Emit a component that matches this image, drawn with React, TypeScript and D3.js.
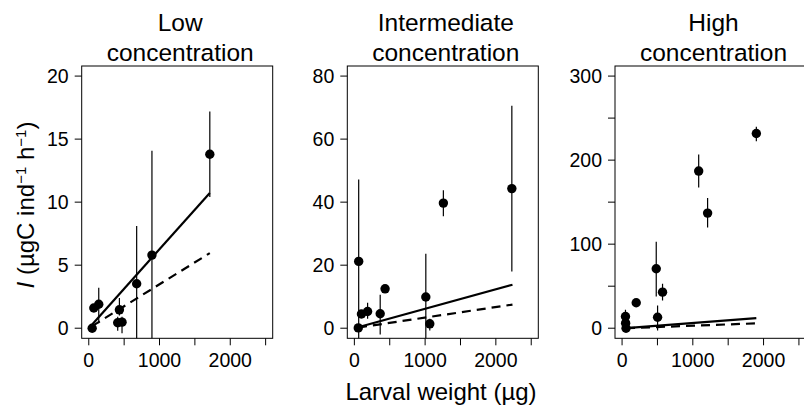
import React from "react";
import * as d3 from "d3";

// ---- data ----
const titles = [
  ["Low", "concentration"],
  ["Intermediate", "concentration"],
  ["High", "concentration"],
];
const yMax = [20, 80, 300];
const yTickStep = [5, 20, 50];
const yLabelStep = [5, 20, 100];
const xTicks = [0, 500, 1000, 1500, 2000, 2500];
const xTickLabels = [0, 1000, 2000];

// larval weight (µg), ingestion, error bar low/high
const lowX = [48, 71, 141, 409, 433, 470, 677, 893, 1711];
const lowY = [0, 1.6, 1.9, 0.43, 1.46, 0.48, 3.53, 5.8, 13.8];
const lowErrLo = [0, 1.4, 0.4, -0.2, 1.0, -0.4, -2, -2, 10.4];
const lowErrHi = [0, 1.8, 3.2, 0.9, 2.4, 0.9, 8.1, 14.07, 17.2];

const midX = [61, 55, 100, 187, 365, 434, 1010, 1066, 1258, 2226];
const midY = [21.2, 0.1, 4.5, 5.3, 4.6, 12.5, 9.9, 1.4, 39.7, 44.3];
const midErrLo = [-5, 0.1, 3.6, 3.0, -2, 11.5, -5, -0.7, 35.5, 18];
const midErrHi = [47.2, 0.1, 5.4, 8.1, 10.6, 13.3, 23.6, 3.0, 43.8, 70.6];

const highX = [56, 50, 48, 200, 483, 502, 572, 1083, 1209, 1898];
const highY = [0, 6, 13.9, 30.3, 70.8, 13.1, 42.9, 187, 137, 231.7];
const highErrLo = [0, 6, 6, 30.3, 37.8, -2.7, 33, 167.3, 119.7, 222.5];
const highErrHi = [0, 6, 21.9, 30.3, 103, 27, 52.9, 206.7, 155, 239.6];

// fitted lines: [x start, x end], [y start, y end]
const fitX = [[48, 1711], [52, 2235], [56, 1898]];
const solidY = [[0.3, 10.73], [0.3, 13.8], [0, 11.9]];
const dashedY = [[0.17, 5.96], [0.2, 7.5], [0, 5.8]];

const panels = [
  { x: lowX, y: lowY, lo: lowErrLo, hi: lowErrHi },
  { x: midX, y: midY, lo: midErrLo, hi: midErrHi },
  { x: highX, y: highY, lo: highErrLo, hi: highErrHi },
];

const W = 804;
const H = 410;
const panelLeft = [81.7, 347.3, 615];
const panelW = 191;
const top = 66;
const bottom = 338.3;
const font = "'Liberation Sans', Arial, Helvetica, sans-serif";

const Panel = ({ i }: { i: number }) => {
  const p = panels[i];
  const left = panelLeft[i];
  const x = d3.scaleLinear().domain([-100, 2600]).range([left, left + panelW]);
  const m = yMax[i];
  const y = d3.scaleLinear().domain([-0.04 * m, 1.04 * m]).range([bottom, top]);
  const yTicks = d3.range(0, m + 0.001, yTickStep[i]);
  const line = d3.line<[number, number]>().x((d) => x(d[0])).y((d) => y(d[1]));
  const clipId = `clip${i}`;
  const cx = left + panelW / 2 + 3;
  return (
    <g>
      <defs>
        <clipPath id={clipId}>
          <rect x={left} y={top} width={panelW} height={bottom - top} />
        </clipPath>
      </defs>
      <text x={cx} y={31} textAnchor="middle" fontSize={24.5} fontFamily={font}>
        {titles[i][0]}
      </text>
      <text x={cx} y={61} textAnchor="middle" fontSize={24.5} fontFamily={font}>
        {titles[i][1]}
      </text>
      <rect x={left} y={top} width={panelW} height={bottom - top} fill="none" stroke="#000" strokeWidth={1} />
      {yTicks.map((t) => (
        <g key={t}>
          <line x1={left - 7} x2={left} y1={y(t)} y2={y(t)} stroke="#000" />
          {t % yLabelStep[i] === 0 && (
            <text x={left - 13} y={y(t)} dy="0.36em" textAnchor="end" fontSize={19.5} fontFamily={font}>
              {t}
            </text>
          )}
        </g>
      ))}
      {xTicks.map((t) => (
        <g key={t}>
          <line x1={x(t)} x2={x(t)} y1={bottom} y2={bottom + 7} stroke="#000" />
          {xTickLabels.includes(t) && (
            <text x={x(t)} y={367} textAnchor="middle" fontSize={19.5} fontFamily={font}>
              {t}
            </text>
          )}
        </g>
      ))}
      <g clipPath={`url(#${clipId})`}>
        {p.x.map((v, k) => (
          <line key={k} x1={x(v)} x2={x(v)} y1={y(p.lo[k])} y2={y(p.hi[k])} stroke="#000" strokeWidth={1.2} />
        ))}
        <path
          d={line([[fitX[i][0], solidY[i][0]], [fitX[i][1], solidY[i][1]]]) || ""}
          fill="none"
          stroke="#000"
          strokeWidth={2.2}
        />
        <path
          d={line([[fitX[i][0], dashedY[i][0]], [fitX[i][1], dashedY[i][1]]]) || ""}
          fill="none"
          stroke="#000"
          strokeWidth={2.2}
          strokeDasharray="9,6"
        />
        {p.x.map((v, k) => (
          <circle key={k} cx={x(v)} cy={y(p.y[k])} r={4.7} fill="#000" />
        ))}
      </g>
    </g>
  );
};

export default function App() {
  return (
    <svg width={W} height={H} style={{ position: "absolute", left: 0, top: 0, background: "#fff" }}>
      {[0, 1, 2].map((i) => (
        <Panel key={i} i={i} />
      ))}
      <text
        transform="translate(34,205) rotate(-90)"
        textAnchor="middle"
        fontSize={24}
        fontFamily={font}
      >
        <tspan fontStyle="italic">I</tspan>
        <tspan> (µgC ind</tspan>
        <tspan fontSize={15} baselineShift="super">−1</tspan>
        <tspan> h</tspan>
        <tspan fontSize={15} baselineShift="super">−1</tspan>
        <tspan>)</tspan>
      </text>
      <text x={441} y={400} textAnchor="middle" fontSize={24} fontFamily={font}>
        Larval weight (µg)
      </text>
    </svg>
  );
}
